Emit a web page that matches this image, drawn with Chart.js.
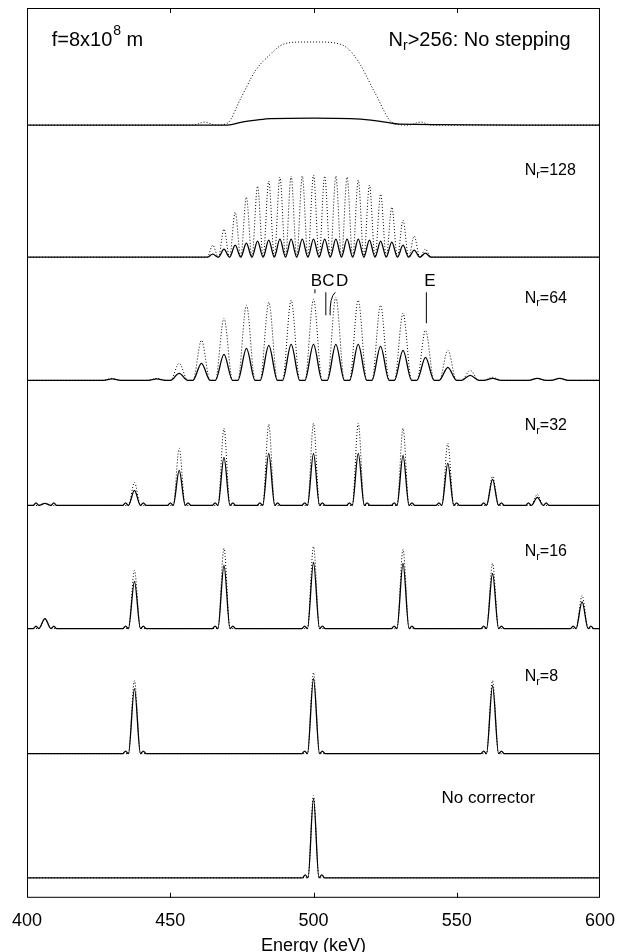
<!DOCTYPE html>
<html><head><meta charset="utf-8">
<script src="https://cdn.jsdelivr.net/npm/chart.js@4/dist/chart.umd.min.js"></script>
<style>html,body{margin:0;padding:0;background:#fff}#wrap{width:627px;height:952px}</style>
</head><body><div id="wrap"><canvas id="c" width="627" height="952"></canvas></div>
<script>
// ---------------- data ----------------
const energyTicks = [400, 450, 500, 550, 600];
// vertical offset of each trace's baseline (arbitrary units, bottom trace = 0)
const traceOffsets = [0, 124, 249, 372, 497, 620, 752];

// No corrector
const peaksNoCorr = [500];
const dotNoCorr   = [82];
const solNoCorr   = [79];

// N_r = 8
const peaksN8 = [437.5, 500, 562.5];
const dotN8   = [73, 81, 73];
const solN8   = [65, 75, 68];

// N_r = 16
const peaksN16 = [406.25, 437.5, 468.75, 500, 531.25, 562.5, 593.75];
const dotN16   = [10, 58, 80, 82, 79, 65, 33];
const solN16   = [10, 47, 63, 66, 65, 55, 27];

// N_r = 32
const peaksN32 = [406.25, 437.5, 453.13, 468.75, 484.38, 500, 515.63, 531.25, 546.88, 562.5, 578.13];
const dotN32   = [2, 23, 57, 77, 81, 82, 82, 77, 62, 29, 11];
const solN32   = [2, 15, 35, 48, 52, 52, 52, 50, 42, 26, 8];

// N_r = 64
const peaksN64 = [429.7, 445.3, 453.1, 460.9, 468.75, 476.6, 484.4, 492.2, 500, 507.8, 515.6, 523.4, 531.25, 539.1, 546.9, 554.7, 562.5, 578.1, 585.9];
const dotN64   = [2, 2, 17, 40, 62, 75, 78, 80, 81, 83, 80, 75, 67, 50, 30, 10, 3, 2, 2];
const solN64   = [1.5, 1.5, 7, 17, 26, 32, 35, 36, 36, 36, 36, 34, 30, 23, 13, 5, 2, 2, 2];

// N_r = 128
const peaksN128 = [464.84, 468.75, 472.66, 476.56, 480.47, 484.38, 488.28, 492.19, 496.09, 500, 503.91, 507.81, 511.72, 515.63, 519.53, 523.44, 527.34, 531.25, 535.16, 539.06];
const dotN128   = [12, 28, 45, 60, 71, 76, 80, 81, 81, 82, 81, 81, 80, 77, 72, 63, 50, 37, 21, 8];
const solN128   = [3, 8, 12, 14, 16, 17, 18, 18, 18, 18, 18, 18, 18, 18, 17, 16, 15, 12, 7, 4];

// N_r > 256 (no stepping): continuous profiles
const dotFlatE = [400, 458, 462, 466, 470, 474.3, 479.9, 485.4, 488.2, 491, 496.5, 502, 507.6, 511.8, 516, 521.5, 527.8, 533, 537.5, 541, 600];
const dotFlatY = [0, 0, 3, 0, 2, 25, 55, 72, 79, 82, 83, 83, 82, 77, 62, 32, 2, 0, 3, 0, 0];
const solFlatE = [400, 470, 475, 480, 485, 500, 513, 520, 525, 530, 600];
const solFlatY = [0, 0, 3, 5, 6.5, 7, 6.5, 5, 3, 1, 0];

// peak half base width (keV) and small side-lobe height, per peaked trace
const peakHalfWidth = [1.9, 2.1, 2.1, 2.1, 3.0, 1.95];
const sideLobe      = [3, 2.5, 2.5, 2.5, 0, 0];

// ---------------- build line tables ----------------
function peakTable(pos, h, hw, lobe, off) {
  const pts = [{x: 400, y: off}];
  pos.forEach((p, i) => {
    if (lobe) { pts.push({x: p - hw - 2, y: off}, {x: p - hw - 1, y: off + lobe}); }
    pts.push({x: p - hw, y: off}, {x: p, y: off + h[i]}, {x: p + hw, y: off});
    if (lobe) { pts.push({x: p + hw + 1, y: off + lobe}, {x: p + hw + 2, y: off}); }
  });
  pts.push({x: 600, y: off});
  return pts.filter(q => q.x >= 400 && q.x <= 600);
}
function profileTable(E, Y, off) { return E.map((e, i) => ({x: e, y: off + Y[i]})); }

const peaked = [
  [peaksNoCorr, dotNoCorr, solNoCorr],
  [peaksN8, dotN8, solN8],
  [peaksN16, dotN16, solN16],
  [peaksN32, dotN32, solN32],
  [peaksN64, dotN64, solN64],
  [peaksN128, dotN128, solN128]
];
const dotted = { borderColor: '#000', borderWidth: 1, borderDash: [1, 2], pointRadius: 0, cubicInterpolationMode: 'monotone', fill: false };
const solid  = { borderColor: '#000', borderWidth: 1.3, pointRadius: 0, cubicInterpolationMode: 'monotone', fill: false };
const datasets = [];
peaked.forEach((p, k) => {
  datasets.push(Object.assign({ data: peakTable(p[0], p[1], peakHalfWidth[k], 0, traceOffsets[k]) }, dotted));
  datasets.push(Object.assign({ data: peakTable(p[0], p[2], peakHalfWidth[k], sideLobe[k], traceOffsets[k]) }, solid));
});
datasets.push(Object.assign({ data: profileTable(dotFlatE, dotFlatY, traceOffsets[6]) }, dotted));
datasets.push(Object.assign({ data: profileTable(solFlatE, solFlatY, traceOffsets[6]) }, solid));

// ---------------- annotation overlay ----------------
const FONT = '"Liberation Sans", Arial, Helvetica, sans-serif';
const labels = [
  { e: 408.6, v: 837, t: 'f=8x10', sup: '8', tail: ' m', size: 20 },
  { e: 526.2, v: 837, t: 'N', sub: 'r', tail: '>256: No stepping', size: 20 },
  { e: 573.7, v: 707, t: 'N', sub: 'r', tail: '=128', size: 16 },
  { e: 573.7, v: 579, t: 'N', sub: 'r', tail: '=64', size: 16 },
  { e: 573.7, v: 452, t: 'N', sub: 'r', tail: '=32', size: 16 },
  { e: 573.7, v: 326, t: 'N', sub: 'r', tail: '=16', size: 16 },
  { e: 573.7, v: 201, t: 'N', sub: 'r', tail: '=8', size: 16 },
  { e: 544.7, v: 79,  t: 'No corrector', size: 17 }
];
const letters = [ { e: 501.0, v: 596, t: 'B' }, { e: 505.2, v: 596, t: 'C' }, { e: 510.0, v: 596, t: 'D' }, { e: 540.6, v: 596, t: 'E' } ];

const overlay = {
  id: 'overlay',
  afterDatasetsDraw(chart) {
    const { ctx, chartArea: a, scales: { x, y } } = chart;
    ctx.save();
    ctx.strokeStyle = '#000'; ctx.fillStyle = '#000'; ctx.lineWidth = 1;
    ctx.strokeRect(a.left + 0.5, a.top + 0.5, a.right - a.left - 1, a.bottom - a.top - 1);
    energyTicks.slice(1, -1).forEach(v => {
      const px = Math.round(x.getPixelForValue(v)) + 0.5;
      ctx.beginPath();
      ctx.moveTo(px, a.top); ctx.lineTo(px, a.top + 5);
      ctx.moveTo(px, a.bottom); ctx.lineTo(px, a.bottom - 5);
      ctx.stroke();
    });
    ctx.textBaseline = 'middle';
    labels.forEach(L => {
      let px = x.getPixelForValue(L.e); const py = y.getPixelForValue(L.v);
      const s = L.size, ss = Math.round(s * 0.68);
      ctx.font = s + 'px ' + FONT; ctx.textAlign = 'left';
      ctx.fillText(L.t, px, py); px += ctx.measureText(L.t).width;
      if (L.sub) { ctx.font = ss + 'px ' + FONT; ctx.fillText(L.sub, px, py + s * 0.32); px += ctx.measureText(L.sub).width; }
      if (L.sup) { ctx.font = ss + 'px ' + FONT; ctx.fillText(L.sup, px + 1, py - s * 0.45); px += ctx.measureText(L.sup).width + 1; }
      if (L.tail) { ctx.font = s + 'px ' + FONT; ctx.fillText(L.tail, px, py); }
    });
    ctx.font = '17px ' + FONT; ctx.textAlign = 'center';
    letters.forEach(L => ctx.fillText(L.t, x.getPixelForValue(L.e), y.getPixelForValue(L.v)));
    // marker lines
    const P = (e, v) => [x.getPixelForValue(e), y.getPixelForValue(v)];
    ctx.lineWidth = 1;
    ctx.beginPath();
    let p1 = P(500.5, 588), p2 = P(500.5, 584);
    ctx.moveTo(p1[0], p1[1]); ctx.lineTo(p2[0], p2[1]);
    p1 = P(504.3, 585); p2 = P(504.3, 562);
    ctx.moveTo(p1[0], p1[1]); ctx.lineTo(p2[0], p2[1]);
    p1 = P(507.6, 585); const pc = P(505.6, 580); p2 = P(505.8, 562);
    ctx.moveTo(p1[0], p1[1]); ctx.quadraticCurveTo(pc[0], pc[1], p2[0], p2[1]);
    p1 = P(539.4, 585); p2 = P(539.4, 554);
    ctx.moveTo(p1[0], p1[1]); ctx.lineTo(p2[0], p2[1]);
    ctx.stroke();
    ctx.restore();
  }
};

new Chart(document.getElementById('c'), {
  type: 'line',
  data: { datasets },
  options: {
    responsive: false, animation: false, devicePixelRatio: 1,
    layout: { padding: { left: 24, right: 24, top: 8, bottom: -5 } },
    plugins: { legend: { display: false }, tooltip: { enabled: false } },
    elements: { line: { tension: 0 } },
    scales: {
      x: {
        type: 'linear', min: energyTicks[0], max: energyTicks[energyTicks.length - 1],
        afterBuildTicks: s => { s.ticks = energyTicks.map(v => ({ value: v })); },
        grid: { display: false, drawTicks: false }, border: { display: false },
        ticks: { color: '#000', font: { family: FONT, size: 18 }, padding: 12, maxRotation: 0, minRotation: 0 },
        title: { display: true, text: 'Energy (keV)', color: '#000', font: { family: FONT, size: 18 }, padding: { top: -8, bottom: 0 } }
      },
      y: { type: 'linear', min: -20, max: 869, display: false }
    }
  },
  plugins: [overlay]
});
</script>
</body></html>
